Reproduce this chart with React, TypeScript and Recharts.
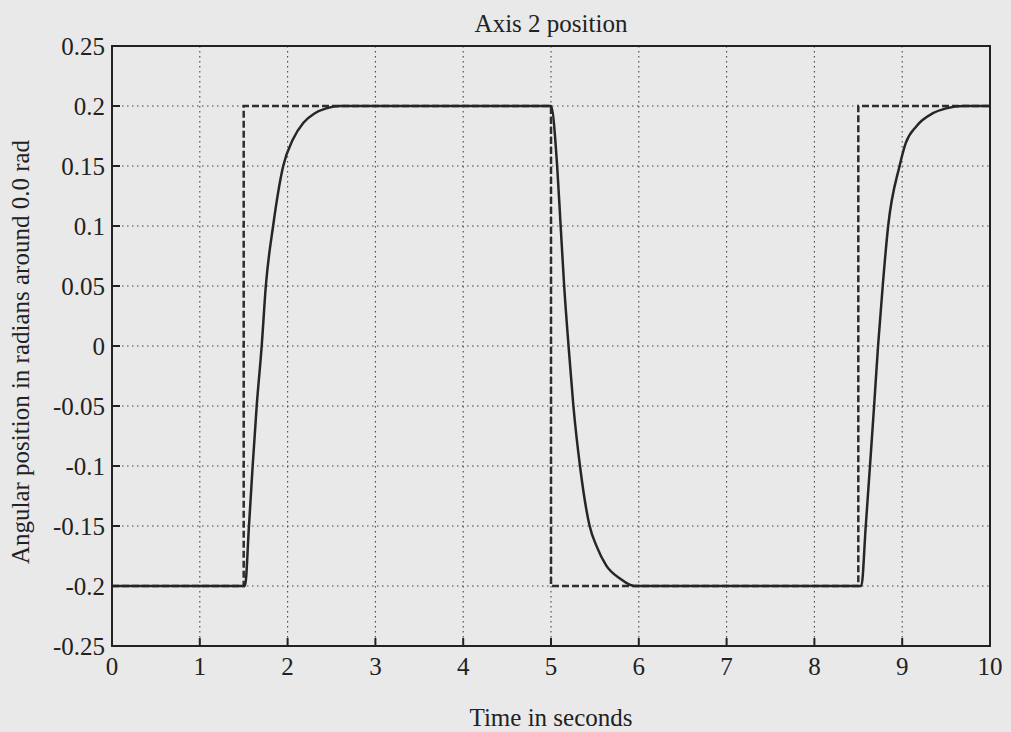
import React from "react";
import { LineChart, Line, XAxis, YAxis, CartesianGrid, ReferenceArea } from "recharts";

const responseTimes = [0, 1.5, 1.515, 1.56, 1.602, 1.648, 1.705, 1.752, 1.835, 1.95, 2.06, 2.18, 2.31, 2.44, 2.6, 5.0, 5.07, 5.11, 5.15, 5.2, 5.255, 5.33, 5.44, 5.52, 5.63, 5.79, 5.95, 8.535, 8.585, 8.633, 8.68, 8.725, 8.778, 8.84, 8.97, 9.04, 9.16, 9.35, 9.5, 9.7, 10];
const responseValues = [-0.2, -0.2, -0.2, -0.15, -0.1, -0.05, 0, 0.05, 0.1, 0.15, 0.172, 0.186, 0.194, 0.198, 0.2, 0.2, 0.15, 0.1, 0.05, 0, -0.05, -0.1, -0.15, -0.167, -0.183, -0.194, -0.2, -0.2, -0.15, -0.1, -0.05, 0, 0.05, 0.1, 0.15, 0.169, 0.183, 0.194, 0.198, 0.2, 0.2];

const referenceTimes = [0, 1.5, 1.5, 5, 5, 8.5, 8.5, 10];
const referenceValues = [-0.2, -0.2, 0.2, 0.2, -0.2, -0.2, 0.2, 0.2];

const xTicks = [0, 1, 2, 3, 4, 5, 6, 7, 8, 9, 10];
const yTicks = [-0.25, -0.2, -0.15, -0.1, -0.05, 0, 0.05, 0.1, 0.15, 0.2, 0.25];
const yTickLabels = ["-0.25", "-0.2", "-0.15", "-0.1", "-0.05", "0", "0.05", "0.1", "0.15", "0.2", "0.25"];

const title = "Axis 2 position";
const xLabel = "Time in seconds";
const yLabel = "Angular position in radians around 0.0 rad";

const responseData = responseTimes.map((t, i) => ({ t, v: responseValues[i] }));
const referenceData = referenceTimes.map((t, i) => ({ t, v: referenceValues[i] }));

const FONT = "'Liberation Serif', 'Times New Roman', serif";
const INK = "#222222";
const PAPER = "#e9e9e9";

if (typeof document !== "undefined") {
  document.body.style.margin = "0";
  document.body.style.background = PAPER;
  document.documentElement.style.background = PAPER;
}

export default function App() {
  const tickStyle = { fontFamily: FONT, fontSize: 25, fill: INK };
  return (
    <div style={{ position: "relative", width: 1011, height: 732, background: PAPER, overflow: "hidden" }}>
      <LineChart
        width={1011}
        height={732}
        margin={{ top: 46, right: 21, bottom: 56, left: 52 }}
      >
        <CartesianGrid stroke="#444" strokeDasharray="1.5 3.5" strokeWidth={1.1} />
        <XAxis
          dataKey="t"
          type="number"
          domain={[0, 10]}
          ticks={xTicks}
          allowDataOverflow
          height={30}
          axisLine={false}
          tickLine={{ stroke: INK, strokeWidth: 2 }}
          tickSize={-8}
          tickMargin={19}
          tick={tickStyle}
        />
        <YAxis
          type="number"
          domain={[-0.25, 0.25]}
          ticks={yTicks}
          allowDataOverflow
          width={60}
          axisLine={false}
          tickLine={{ stroke: INK, strokeWidth: 2 }}
          tickSize={-8}
          tickMargin={15}
          tick={tickStyle}
          tickFormatter={(v: number) => {
            const i = yTicks.findIndex((y) => Math.abs(y - v) < 1e-9);
            return i >= 0 ? yTickLabels[i] : String(v);
          }}
        />
        <ReferenceArea x1={0} x2={10} y1={-0.25} y2={0.25} fill="none" stroke={INK} strokeWidth={2} />
        <Line
          data={referenceData}
          dataKey="v"
          type="linear"
          stroke="#2e2e2e"
          strokeWidth={2.5}
          strokeDasharray="7 3"
          dot={false}
          activeDot={false}
          isAnimationActive={false}
        />
        <Line
          data={responseData}
          dataKey="v"
          type="monotone"
          stroke="#262626"
          strokeWidth={2.5}
          dot={false}
          activeDot={false}
          isAnimationActive={false}
        />
      </LineChart>
      <svg width={1011} height={732} style={{ position: "absolute", left: 0, top: 0, pointerEvents: "none" }}>
        <text x={551} y={32} textAnchor="middle" fontFamily={FONT} fontSize={25} fill={INK}>{title}</text>
        <text x={551} y={726} textAnchor="middle" fontFamily={FONT} fontSize={25} fill={INK}>{xLabel}</text>
        <text x={29} y={352} textAnchor="middle" fontFamily={FONT} fontSize={25} fill={INK} transform="rotate(-90 29 352)">{yLabel}</text>
      </svg>
    </div>
  );
}
